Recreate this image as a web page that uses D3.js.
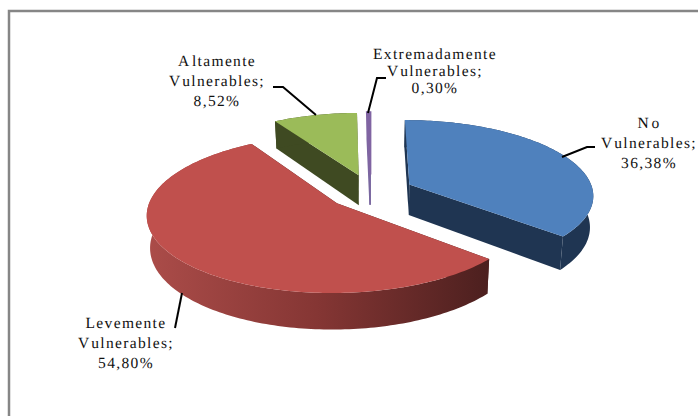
<!DOCTYPE html>
<html><head><meta charset="utf-8">
<script src="https://cdn.jsdelivr.net/npm/d3@7/dist/d3.min.js"></script>
<style>html,body{margin:0;padding:0;background:#fff}svg{display:block}
text{font-family:"Liberation Serif",serif;font-size:15.5px;letter-spacing:1.35px;fill:#111;text-anchor:middle;text-rendering:geometricPrecision}</style>
</head><body><svg id="c" width="698" height="416"></svg>
<script>
const categories = ["No Vulnerables","Extremadamente Vulnerables","Altamente Vulnerables","Levemente Vulnerables"];
const values = [36.38,0.30,8.52,54.80];
const pctLabels = ["36,38%","0,30%","8,52%","54,80%"];
const topColors = ["#4f81bd","#8064a2","#9bbb59","#c0504d"];
const wallColors = ["#1f3552","#7a68a0","#3f4a22","#7a302e"];
const labelLines = [["No","Vulnerables;"],["Extremadamente","Vulnerables;"],["Altamente","Vulnerables;"],["Levemente","Vulnerables;"]];
// clockwise order starting at 12 o'clock
const pieOrder = [0,3,2,1];

const svg=d3.select("#c");
const X0=370.5,Y0=191.6,Rx=184,Ry=74.6,P=0.132,EXP=0.235,D=31,BOTTOM_X=0.985;
// the frame runs off the right and bottom of the picture
svg.append("rect").attr("x",9).attr("y",11).attr("width",720).attr("height",440)
  .attr("fill","#fff").attr("stroke","#868686").attr("stroke-width",2.5);

const pie=d3.pie().sort((a,b)=>pieOrder.indexOf(a)-pieOrder.indexOf(b)).value(i=>values[i]);
const arcs=pie(d3.range(values.length));
const line=d3.line();

function project(a,r,e,mid,bottom){
  const u=r*Math.sin(a)+e*Math.sin(mid);
  const v=r*Math.cos(a)+e*Math.cos(mid);
  const s=1/(1+P*v);
  return [X0+Rx*u*s*(bottom?BOTTOM_X:1), Y0-Ry*v*s+(bottom?D*s:0)];
}
const defs=svg.append("defs");
const grad=defs.append("linearGradient").attr("id","redWall").attr("gradientUnits","userSpaceOnUse")
  .attr("x1",148).attr("x2",486).attr("y1",0).attr("y2",0);
grad.append("stop").attr("offset",0).attr("stop-color","#ab4c49");
grad.append("stop").attr("offset",0.5).attr("stop-color","#853634");
grad.append("stop").attr("offset",1).attr("stop-color","#4d201f");

const drawOrder=[2,1,0,3]; // green, purple, blue, red
drawOrder.forEach(i=>{
  const d=arcs[i];
  const mid=(d.startAngle+d.endAngle)/2;
  const n=Math.max(2,Math.ceil((d.endAngle-d.startAngle)/0.02));
  const angles=d3.range(n+1).map(k=>d.startAngle+(d.endAngle-d.startAngle)*k/n);
  const g=svg.append("g");
  const wallFill=i===3?"url(#redWall)":wallColors[i];
  [d.startAngle,d.endAngle].forEach(a=>{
    const q=[project(a,0,EXP,mid,false),project(a,1,EXP,mid,false),project(a,1,EXP,mid,true),project(a,0,EXP,mid,true)];
    g.append("path").attr("d",line(q)+"Z").attr("fill",i===3?"#4d201f":wallColors[i])
      .attr("stroke",i===1?wallColors[i]:"none").attr("stroke-width",1.5);
  });
  const outer=angles.map(a=>project(a,1,EXP,mid,false)).concat(angles.slice().reverse().map(a=>project(a,1,EXP,mid,true)));
  g.append("path").attr("d",line(outer)+"Z").attr("fill",wallFill);
  const top=[project(0,0,EXP,mid,false)].concat(angles.map(a=>project(a,1,EXP,mid,false)));
  g.append("path").attr("d",line(top)+"Z").attr("fill",topColors[i])
    .attr("stroke",i===1?topColors[i]:"none").attr("stroke-width",2.5);
});

const labelPos=[[649,128],[435,59],[217,66],[126,328]];
const lineGap=[20,17,20,20];
const wideFirstLetter=new Set(["V","A","N"]);
values.forEach((v,i)=>{
  const [x,y]=labelPos[i];
  labelLines[i].concat([pctLabels[i]]).forEach((t,k)=>{
    const el=svg.append("text").attr("x",x).attr("y",y+k*lineGap[i]);
    if(wideFirstLetter.has(t[0])){
      el.append("tspan").text(t[0]);
      el.append("tspan").attr("dx",1.5).text(t.slice(1));
    } else el.text(t);
  });
});
const leaders=[[[562,157],[587,147],[595,147]],[[368,113],[377,78],[386,78]],[[316,115],[283,87],[273,87]],[[182,293],[175,328]]];
leaders.forEach(p=>svg.append("path").attr("d",line(p)).attr("fill","none").attr("stroke","#000").attr("stroke-width",2));
</script></body></html>
